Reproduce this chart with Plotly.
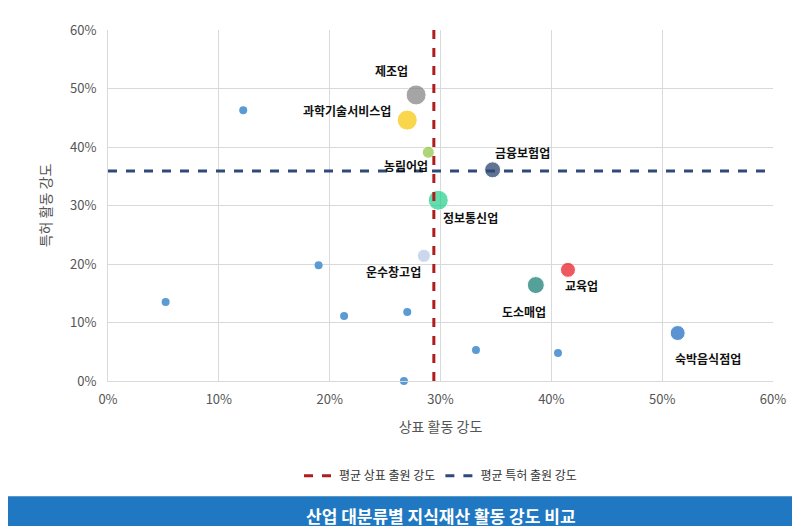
import plotly.graph_objects as go

names = ["제조업","과학기술서비스업","농림어업","금융보험업","정보통신업","운수창고업","교육업","도소매업","숙박음식점업"]
tm = [27.8,27.0,28.9,34.7,29.8,28.5,41.5,38.6,51.4]
pt = [48.9,44.6,39.1,36.1,30.9,21.4,19.0,16.4,8.2]
colors = ["#7f7f7f","#f7c600","#8dc63f","#1f3864","#1fd08c","#b4c7e7","#e8141c","#0e7a6e","#1565c0"]
sizes = [20,20,12,16,20,13,15,17,15]
small_x = [12.2,19.0,5.2,21.3,27.0,33.2,40.6,26.7]
small_y = [46.3,19.8,13.5,11.1,11.8,5.3,4.8,0.0]
avg_tm = 29.4
avg_pt = 35.9
lab_dx = [-25,-60,-22,30,32,-30,14,-12,30]
lab_dy = [-24,-10,13,-17,17,16,16,26,25]

F = "Noto Sans CJK KR"
fig = go.Figure()
fig.add_trace(go.Scatter(x=small_x, y=small_y, mode="markers",
    marker=dict(size=8, color="#5b9bd5"), showlegend=False, cliponaxis=False))
fig.add_trace(go.Scatter(x=tm, y=pt, mode="markers",
    marker=dict(size=sizes, color=colors), showlegend=False))
fig.add_trace(go.Scatter(x=[avg_tm, avg_tm], y=[0, 60], mode="lines",
    line=dict(color="#b01c1c", width=3, dash="dash"), name="평균 상표 출원 강도"))
fig.add_trace(go.Scatter(x=[0, 60], y=[avg_pt, avg_pt], mode="lines",
    line=dict(color="#2e4a7a", width=3, dash="dash"), name="평균 특허 출원 강도"))
for n, x, y, dx, dy in zip(names, tm, pt, lab_dx, lab_dy):
    fig.add_annotation(x=x, y=y, text="<b>"+n+"</b>", showarrow=False,
        xshift=dx, yshift=-dy, font=dict(size=12, color="#111", family=F))
fig.add_shape(type="rect", xref="paper", yref="paper", x0=-0.16, x1=1.06, y0=-0.44, y1=-0.328,
    fillcolor="#1f78c1", line=dict(width=0), layer="above")
fig.add_annotation(xref="paper", yref="paper", x=0.5, y=-0.384, yanchor="middle", showarrow=False,
    text="<b>산업 대분류별 지식재산 활동 강도 비교</b>", font=dict(size=17, color="white", family=F))
fig.update_layout(width=800, height=526, paper_bgcolor="white", plot_bgcolor="white",
    margin=dict(l=100, r=35, t=22, b=153), font=dict(family=F, color="#555"),
    legend=dict(orientation="h", x=0.5, xanchor="center", y=-0.27, yanchor="middle",
                font=dict(size=12, color="#333"), bgcolor="rgba(0,0,0,0)"),
    xaxis=dict(range=[0, 60], dtick=10, ticksuffix="%", showgrid=True, gridcolor="#d9d9d9",
               zeroline=False, tickfont=dict(size=13), title=dict(text="상표 활동 강도", font=dict(size=14)),
               showline=True, linecolor="#d9d9d9", ticklabelstandoff=6),
    yaxis=dict(range=[0, 60], dtick=10, ticksuffix="%", showgrid=True, gridcolor="#d9d9d9",
               zeroline=False, tickfont=dict(size=13), title=dict(text="특허 활동 강도", font=dict(size=14)),
               showline=True, linecolor="#d9d9d9", ticklabelstandoff=8))
fig.write_html("out.html")
